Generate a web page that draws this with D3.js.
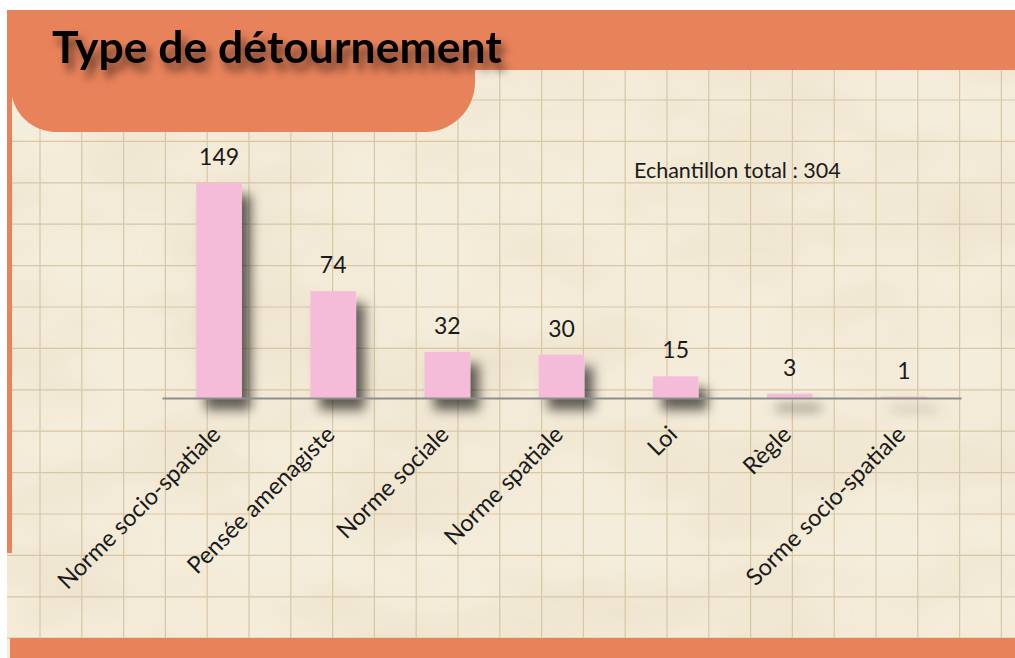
<!DOCTYPE html>
<html>
<head>
<meta charset="utf-8">
<script src="https://cdn.jsdelivr.net/npm/d3@7"></script>
<style>
  html, body { margin: 0; padding: 0; background: #fff; }
  svg { display: block; }
</style>
</head>
<body>
<div id="chart"></div>
<script>
// chart data
const categories = [
    "Norme socio-spatiale",
    "Pensée amenagiste",
    "Norme sociale",
    "Norme spatiale",
    "Loi",
    "Règle",
    "Sorme socio-spatiale"
];
const counts = [149, 74, 32, 30, 15, 3, 1];
const title = "Type de détournement";
const totalLabel = "Echantillon total : 304";

const colors = {
    orange: "#e8825a",
    paper: "#f5eddb",
    grid: "#d8c6a5",
    bar: "#f5bcd9",
    axis: "#8d8d8d",
    ink: "#1a1a1a"
};
const font = 'Lato, "Open Sans", sans-serif';

const W = 1015, H = 658;

const svg = d3.select("#chart").append("svg")
    .attr("width", W)
    .attr("height", H);

const defs = svg.append("defs");

// paper texture
const tex = defs.append("filter").attr("id", "paperTex")
    .attr("x", 0).attr("y", 0).attr("width", 1).attr("height", 1);
tex.append("feTurbulence")
    .attr("type", "fractalNoise")
    .attr("baseFrequency", "0.006 0.012")
    .attr("numOctaves", 3)
    .attr("seed", 7)
    .attr("result", "noise");
tex.append("feColorMatrix")
    .attr("in", "noise")
    .attr("type", "matrix")
    .attr("values", "0 0 0 0 0.55  0 0 0 0 0.42  0 0 0 0 0.22  0 0 0 -1.1 0.75");

const barShadow = defs.append("filter").attr("id", "barShadow")
    .attr("x", "-30%").attr("y", "-30%").attr("width", "180%").attr("height", "180%");
barShadow.append("feDropShadow")
    .attr("dx", 9).attr("dy", 12)
    .attr("stdDeviation", 6)
    .attr("flood-color", "#000")
    .attr("flood-opacity", 0.6);

const titleShadow = defs.append("filter").attr("id", "titleShadow")
    .attr("x", "-10%").attr("y", "-30%").attr("width", "130%").attr("height", "190%");
titleShadow.append("feDropShadow")
    .attr("dx", 5).attr("dy", 8)
    .attr("stdDeviation", 4)
    .attr("flood-color", "#000")
    .attr("flood-opacity", 0.55);

// paper
svg.append("rect")
    .attr("x", 7).attr("y", 10)
    .attr("width", W - 7).attr("height", H - 10)
    .attr("fill", colors.paper);
svg.append("rect")
    .attr("x", 7).attr("y", 10)
    .attr("width", W - 7).attr("height", H - 10)
    .attr("filter", "url(#paperTex)")
    .attr("opacity", 0.25);

// squared grid of the paper
const grid = svg.append("g")
    .attr("stroke", colors.grid)
    .attr("stroke-width", 1.2);
grid.selectAll("line.v")
    .data(d3.range(40, W, 41.8))
    .join("line")
    .attr("class", "v")
    .attr("x1", d => d).attr("x2", d => d)
    .attr("y1", 10).attr("y2", H);
grid.selectAll("line.h")
    .data(d3.range(58.6, H, 41.4))
    .join("line")
    .attr("class", "h")
    .attr("y1", d => d).attr("y2", d => d)
    .attr("x1", 7).attr("x2", W);

// orange frame
svg.append("rect")
    .attr("x", 7).attr("y", 10)
    .attr("width", W - 7).attr("height", 60)
    .attr("fill", colors.orange);
svg.append("rect")
    .attr("x", 7).attr("y", 10)
    .attr("width", 5).attr("height", 543)
    .attr("fill", colors.orange);
svg.append("rect")
    .attr("x", 10).attr("y", 638)
    .attr("width", W - 10).attr("height", H - 638)
    .attr("fill", colors.orange);
svg.append("path")
    .attr("d", "M11,10 H475 V82 A50,50 0 0 1 425,132 H56 A45,45 0 0 1 11,87 Z")
    .attr("fill", colors.orange);

svg.append("text")
    .attr("x", 52).attr("y", 63)
    .attr("font-family", font)
    .attr("font-weight", 700)
    .attr("font-size", 44.5)
    .attr("fill", "#000")
    .attr("filter", "url(#titleShadow)")
    .text(title);

// bar chart
const x = d3.scaleBand()
    .domain(categories)
    .range([162, 961])
    .paddingInner(0.6)
    .paddingOuter(0.3);

const y = d3.scaleLinear()
    .domain([0, d3.max(counts)])
    .range([398, 183]);

const rows = categories.map((c, i) => ({ cat: c, value: counts[i] }));

svg.append("g")
    .attr("filter", "url(#barShadow)")
    .selectAll("rect")
    .data(rows)
    .join("rect")
    .attr("x", d => x(d.cat))
    .attr("y", d => y(d.value))
    .attr("width", x.bandwidth())
    .attr("height", d => y(0) - y(d.value))
    .attr("fill", colors.bar);

const axis = svg.append("g")
    .attr("transform", `translate(0,${y(0)})`)
    .call(d3.axisBottom(x).tickSize(0).tickSizeOuter(0));
axis.select(".domain")
    .attr("stroke", colors.axis)
    .attr("stroke-width", 2);
axis.selectAll(".tick text")
    .attr("x", 0).attr("y", 0).attr("dy", 0)
    .attr("transform", "translate(3,38) rotate(-45)")
    .attr("text-anchor", "end")
    .attr("font-family", font)
    .attr("font-size", 23.5)
    .attr("fill", colors.ink);

svg.append("g")
    .selectAll("text")
    .data(rows)
    .join("text")
    .attr("x", d => x(d.cat) + x.bandwidth() / 2)
    .attr("y", d => y(d.value) - 18)
    .attr("text-anchor", "middle")
    .attr("font-family", font)
    .attr("font-size", 23)
    .attr("fill", colors.ink)
    .text(d => d.value);

svg.append("text")
    .attr("x", 634).attr("y", 178)
    .attr("font-family", font)
    .attr("font-size", 21.5)
    .attr("fill", colors.ink)
    .text(totalLabel);
</script>
</body>
</html>
